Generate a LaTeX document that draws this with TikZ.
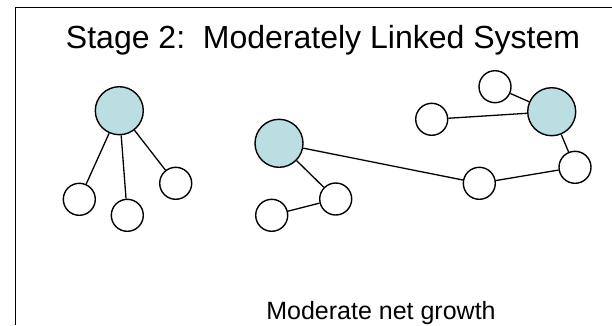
\documentclass[tikz,border=0pt]{standalone}
\usepackage{fontspec}
\setmainfont{Liberation Sans}
\usepackage{xcolor}
\usepackage{tikz}
\definecolor{hubfill}{RGB}{186,222,226}
\tikzset{
	main node/.style={circle,draw,line width=1.4pt,fill=hubfill,minimum size=48pt,inner sep=0pt},
	leaf node/.style={circle,draw,line width=1.4pt,fill=white,minimum size=32pt,inner sep=0pt},
	caption/.style={anchor=base,inner sep=0pt}
}

\begin{document}
\begin{tikzpicture}[x=1pt,y=-1pt,line width=1.3pt]
	\useasboundingbox (0,0) rectangle (612,325);
	\draw[line width=1.4pt] (15.5,325) -- (15.5,7.5) -- (612,7.5);
	\node [caption,font=\fontsize{32}{38}\selectfont] (title) at (323,48) {Stage 2:\ \ Moderately Linked System};
	\node [caption,font=\fontsize{25}{30}\selectfont] (growth) at (381,319) {Moderate net growth};
	% star
	\node [leaf node] (2) at (79.3,199.3) {};
	\node [leaf node] (3) at (127.3,215.3) {};
	\node [leaf node] (4) at (175.7,183.3) {};
	\node [main node] (1) at (119.3,110.7) {};
	\draw (1) -- (2);
	\draw (1) -- (3);
	\draw (1) -- (4);
	% chain
	\node [main node] (5) at (279,143.3) {};
	\node [leaf node] (6) at (335.7,199) {};
	\node [leaf node] (7) at (271.7,215.3) {};
	\node [leaf node] (8) at (479.3,183.3) {};
	\node [leaf node] (9) at (575,167.3) {};
	\node [main node] (10) at (551.7,111.7) {};
	\node [leaf node] (11) at (495,86.7) {};
	\node [leaf node] (12) at (431.7,119.3) {};
	\draw (5) -- (6);
	\draw (6) -- (7);
	\draw (5) -- (8);
	\draw (8) -- (9);
	\draw (9) -- (10);
	\draw (10) -- (11);
	\draw (10) -- (12);
\end{tikzpicture}
\end{document}
